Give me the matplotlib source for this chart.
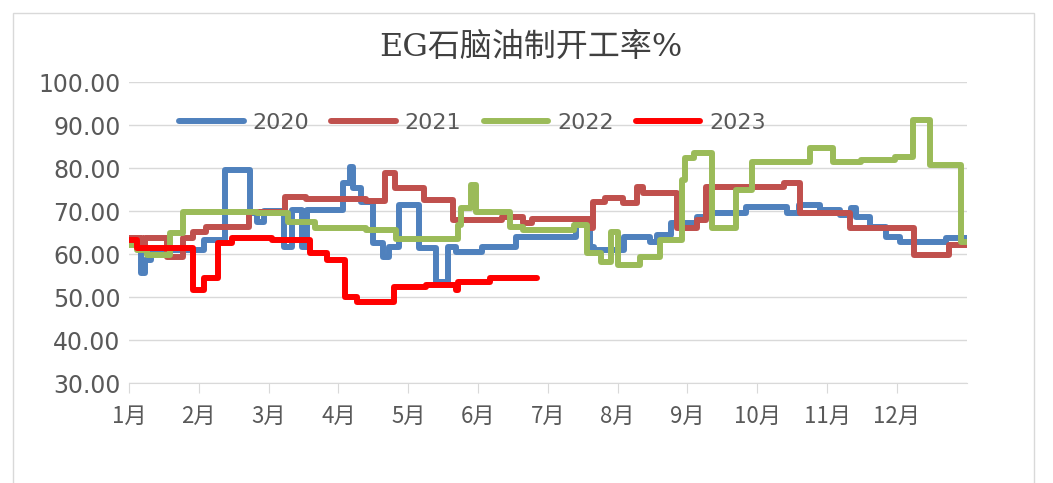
import matplotlib
matplotlib.use('Agg')
import matplotlib.pyplot as plt
from matplotlib.patches import Rectangle

plt.rcParams['font.family'] = ['Noto Sans CJK SC', 'DejaVu Sans']

# 月份刻度
months = ['1月', '2月', '3月', '4月', '5月', '6月', '7月', '8月', '9月', '10月', '11月', '12月']

# 各年份开工率（x 为月份位置，阶梯变化点）
x2020 = [0, 0.17, 0.23, 0.32, 1.07, 1.37, 1.73, 1.84, 1.93, 2.22, 2.33, 2.48, 2.55, 3.07, 3.17, 3.21,
         3.33, 3.50, 3.64, 3.73, 3.87, 4.15, 4.40, 4.57, 4.69, 5.05, 5.55, 6.41, 6.61, 6.66, 7.09, 7.47,
         7.57, 7.76, 8.13, 8.28, 8.84, 9.42, 9.60, 9.90, 10.18, 10.34, 10.41, 10.62, 10.85, 11.05, 11.71, 12.0]
y2020 = [63.5, 55.6, 58.6, 61, 63.3, 79.5, 69.5, 67.4, 70, 61.6, 70.2, 61.6, 70.2, 76.5, 80.2, 75.3,
         72, 62.6, 59.3, 61.6, 71.4, 61.4, 53.5, 61.6, 60.5, 61.6, 64, 67.2, 61.6, 61, 64, 62.8,
         64.4, 67.2, 68.6, 69.5, 71, 69.5, 71.4, 70.2, 69, 70.7, 68.6, 66.3, 64, 62.8, 63.7, 63.7]

x2021 = [0, 0.19, 0.23, 0.55, 0.77, 0.92, 1.11, 1.72, 2.23, 2.53, 3.40, 3.67, 3.81, 4.22, 4.64, 5.35,
         5.65, 5.77, 6.60, 6.65, 6.82, 7.07, 7.28, 7.36, 7.85, 8.13, 8.27, 9.38, 9.61, 10.33, 11.25, 11.74, 12.0]
y2021 = [63.7, 62, 63.7, 59.3, 63.7, 65.1, 66.3, 69.8, 73.3, 72.8, 72.3, 78.8, 75.3, 72.6, 67.9, 68.6,
         67.2, 68.2, 66, 72.1, 73, 71.9, 75.6, 74.2, 66, 67.9, 75.6, 76.5, 69.5, 66, 59.8, 62.1, 62.1]

x2022 = [0, 0.11, 0.26, 0.59, 0.78, 1.83, 2.28, 2.67, 3.40, 3.83, 4.71, 4.76, 4.90, 4.97, 5.46, 5.65,
         6.37, 6.56, 6.76, 6.91, 7.01, 7.32, 7.61, 7.92, 7.96, 8.09, 8.35, 8.70, 8.92, 9.75, 10.09, 10.49,
         10.97, 11.23, 11.48, 11.92, 12.0]
y2022 = [62, 61, 59.8, 64.9, 69.8, 69.5, 67.4, 66, 65.6, 63.4, 66.7, 70.7, 76, 69.8, 66.3, 65.6,
         66.7, 60.2, 58.1, 65.1, 57.4, 59.3, 63.3, 77.2, 82.3, 83.5, 66, 74.9, 81.4, 84.7, 81.4, 81.9,
         82.6, 91.2, 80.7, 62.8, 62.8]

x2023 = [0, 0.11, 0.92, 1.07, 1.28, 1.47, 2.05, 2.59, 2.84, 3.09, 3.26, 3.80, 4.26, 4.68, 4.72, 5.17, 5.85]
y2023 = [63.3, 61.4, 51.6, 54.4, 62.6, 63.7, 63.3, 60.2, 58.6, 50, 48.8, 52.3, 52.8, 51.6, 53.5, 54.4, 54.4]

series = [('2020', x2020, y2020, '#4F81BD'),
          ('2021', x2021, y2021, '#C0504D'),
          ('2022', x2022, y2022, '#9BBB59'),
          ('2023', x2023, y2023, '#FF0000')]

fig = plt.figure(figsize=(10.53, 4.83), dpi=100)
ax = fig.add_axes([0.1225, 0.207, 0.7955, 0.623])

# 图表外框
fig.patches.append(Rectangle((13 / 1053, -0.1), 1021 / 1053, 1.1 - 13 / 483, transform=fig.transFigure,
                             fill=False, edgecolor='#D9D9D9', linewidth=1))

for name, xs, ys, c in series:
    ax.plot(xs, ys, drawstyle='steps-post', color=c, linewidth=4.3, label=name,
            solid_joinstyle='round', solid_capstyle='round')

ax.set_xlim(0, 12)
ax.set_ylim(30, 100)
ax.set_yticks(range(30, 101, 10))
ax.set_yticklabels(['%.2f' % v for v in range(30, 101, 10)], family='DejaVu Sans')
ax.set_xticks(range(12))
ax.set_xticklabels(months)
ax.grid(axis='y', color='#D9D9D9', linewidth=1)
ax.set_axisbelow(True)
for s in ['left', 'right', 'top']:
    ax.spines[s].set_visible(False)
ax.spines['bottom'].set_color('#D9D9D9')
ax.tick_params(axis='y', length=0, pad=6, labelsize=17, labelcolor='#595959')
ax.tick_params(axis='x', length=7, color='#D9D9D9', pad=9, labelsize=16, labelcolor='#595959')

fig.text(531 / 1053, 1 - 47 / 483, 'EG石脑油制开工率%', ha='center', va='center', fontsize=23,
         color='#404040', family=['DejaVu Serif', 'Noto Sans CJK SC'])

leg = ax.legend(loc='upper left', bbox_to_anchor=(0.036, 0.965), ncol=4, frameon=False,
                prop={'family': 'DejaVu Sans', 'size': 16},
                handlelength=2.9, handletextpad=0.4, columnspacing=1.0)
for t in leg.get_texts():
    t.set_color('#595959')

fig.savefig('out.png', dpi=100)
